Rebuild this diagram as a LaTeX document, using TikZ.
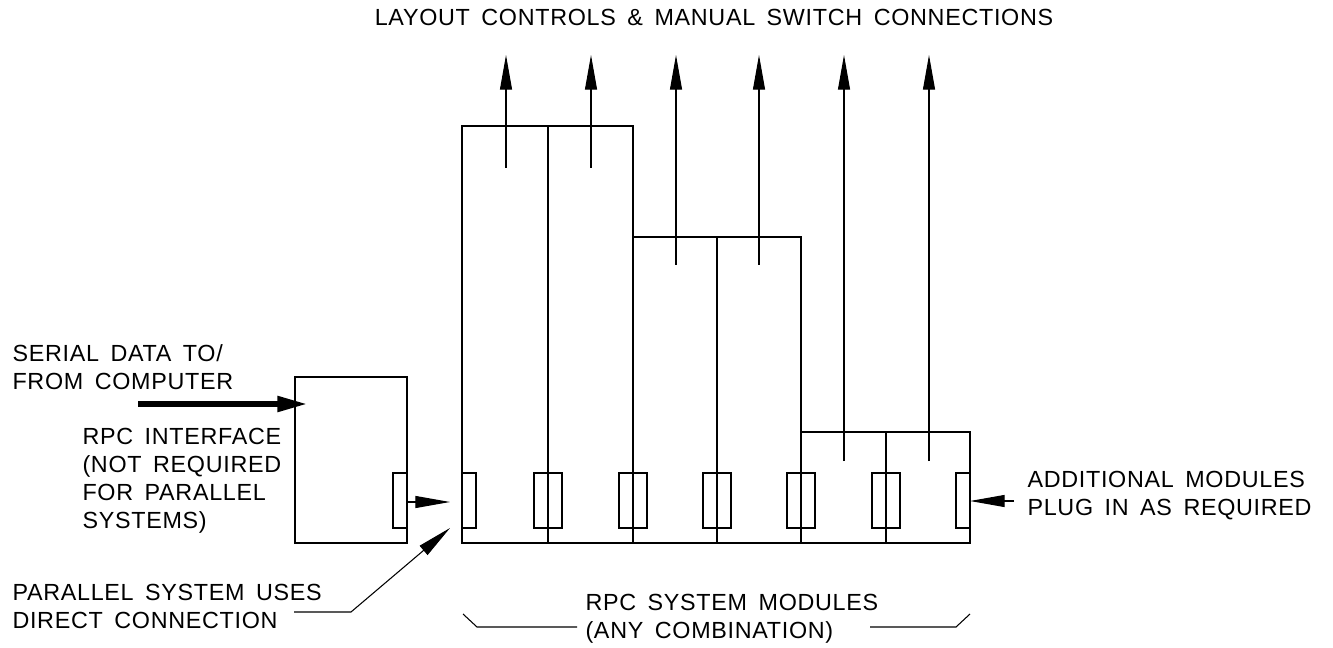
\documentclass[tikz,border=0pt]{standalone}
\usepackage{fontspec}
\setmainfont{Liberation Sans}[LetterSpace=3,WordSpace=1.6]
\usetikzlibrary{arrows.meta}
\begin{document}
\begin{tikzpicture}[x=0.75pt,y=-0.75pt,line width=0.8pt,
  lbl/.style={font=\fontsize{17.5}{21}\selectfont,inner sep=0pt,align=left,anchor=west},
  tiparrow/.style={-{Triangle[length=26pt,width=9pt]}},
  fatarrow/.style={line width=4.5pt,-{Triangle[length=23pt,width=11pt]}}]
\useasboundingbox (0,0) rectangle (1333,648);

% ---- module block outline ----
\coordinate (mBL) at (462,543);
\coordinate (mTL) at (462,126);
\coordinate (mT1) at (633,126);
\coordinate (mS1) at (633,237);
\coordinate (mT2) at (801,237);
\coordinate (mS2) at (801,432);
\coordinate (mT3) at (970,432);
\coordinate (mBR) at (970,543);
\draw (mBL) -- (mTL) -- (mT1) -- (mS1) -- (mT2) -- (mS2) -- (mT3) -- (mBR) -- cycle;
% dividers
\draw (548,126) -- (548,543);
\draw (633,237) -- (633,543);
\draw (717,237) -- (717,543);
\draw (801,432) -- (801,543);
\draw (886,432) -- (886,543);

% ---- plug connectors ----
\draw (462,473) rectangle (476,528);
\foreach \x in {548,633,717,801,886}{
  \draw (\x-14,473) rectangle (\x+14,528);
}
\draw (956,473) rectangle (970,528);

% ---- output arrows ----
\foreach \x/\y/\n in {506/168/a1,591/168/a2,676/265/a3,759/265/a4,844/461/a5,929/461/a6}{
  \coordinate (\n s) at (\x,\y);
  \coordinate (\n e) at (\x,55);
  \draw[tiparrow] (\n s) -- (\n e);
}
\node[lbl,anchor=center] (top) at (714,17) {LAYOUT CONTROLS \& MANUAL SWITCH CONNECTIONS};

% ---- interface ----
\draw (295,377) rectangle (407,543);
\draw (393,473) rectangle (407,528);
\coordinate (ifout) at (407,502);
\coordinate (mainin) at (450,502);
\draw[tiparrow] (ifout) -- (mainin);

\coordinate (serS) at (138,404);
\coordinate (serE) at (308,404);
\draw[fatarrow] (serS) -- (serE);

\node[lbl] (serial) at (12,367.5) {SERIAL DATA TO/\\FROM COMPUTER};
\node[lbl] (iface) at (82,481) {RPC INTERFACE\\(NOT REQUIRED\\FOR PARALLEL\\SYSTEMS)};

% ---- parallel leader ----
\node[lbl] (par) at (12,606) {PARALLEL SYSTEM USES\\DIRECT CONNECTION};
\coordinate (ldA) at (294,612);
\coordinate (ldB) at (351,612);
\coordinate (ldC) at (450,528);
\draw[tiparrow] (ldA) -- (ldB) -- (ldC);

% ---- additional modules ----
\coordinate (adS) at (1014,501);
\coordinate (adE) at (970,501);
\draw[tiparrow] (adS) -- (adE);
\node[lbl] (add) at (1027,496) {ADDITIONAL MODULES\\PLUG IN AS REQUIRED};

% ---- bracket ----
\node[lbl] (sys) at (585,619) {RPC SYSTEM MODULES\\(ANY COMBINATION)};
\coordinate (bL1) at (463,614);
\coordinate (bL2) at (477,627);
\coordinate (bL3) at (577,627);
\coordinate (bR1) at (870,627);
\coordinate (bR2) at (956,627);
\coordinate (bR3) at (970,614);
\draw (bL1) -- (bL2) -- (bL3);
\draw (bR1) -- (bR2) -- (bR3);
\end{tikzpicture}
\end{document}
